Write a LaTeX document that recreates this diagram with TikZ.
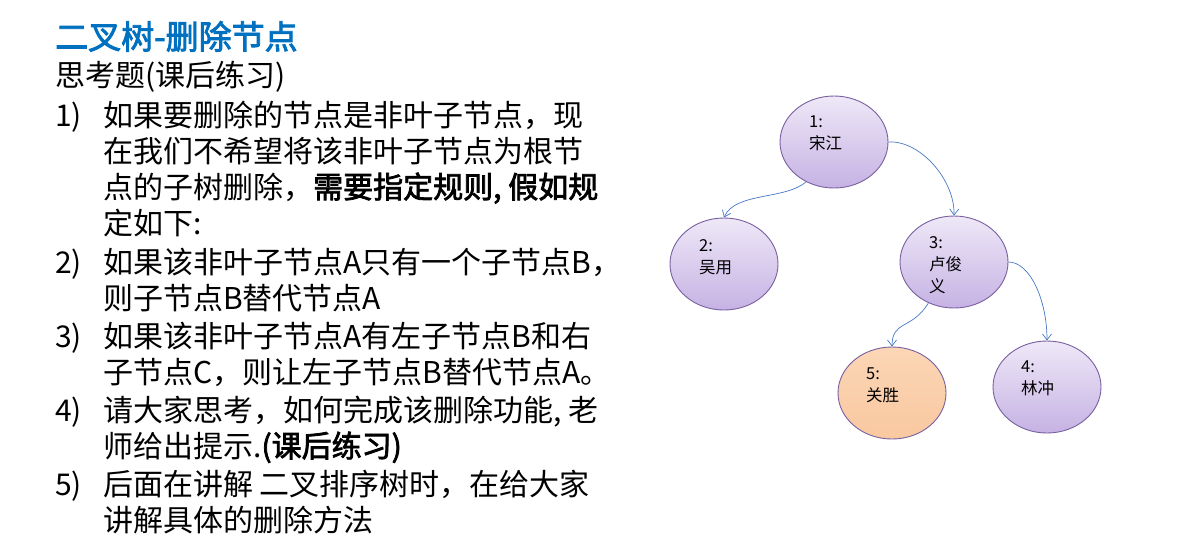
\documentclass[tikz,border=0pt]{standalone}
\usepackage{fontspec}
\setmainfont{Noto Sans CJK SC}[AutoFakeBold=2.5]
\usetikzlibrary{shapes.geometric,arrows.meta}
\definecolor{tblue}{RGB}{0,112,192}
\definecolor{ebord}{RGB}{120,95,160}
\definecolor{etop}{RGB}{238,232,247}
\definecolor{ebot}{RGB}{198,178,228}
\definecolor{otop}{RGB}{251,214,182}
\definecolor{obot}{RGB}{249,200,160}
\definecolor{lblue}{RGB}{70,120,195}
\tikzset{
  tn/.style={ellipse,draw=ebord,line width=0.9pt,top color=etop,bottom color=ebot,minimum width=108pt,minimum height=92pt,inner sep=0pt},
  on/.style={tn,top color=otop,bottom color=obot},
  lab/.style={anchor=north west,font=\fontsize{16.5}{22}\selectfont,align=left,inner sep=0pt},
  txt/.style={anchor=base west,inner sep=0pt,font=\fontsize{30}{32}\selectfont},
  ed/.style={draw=lblue,line width=0.7pt,-{Straight Barb[length=6pt,width=9pt]}}
}
\begin{document}
\begin{tikzpicture}[x=1pt,y=-1pt]
\useasboundingbox (0,0) rectangle (1178,558);
\node[anchor=base west,inner sep=0pt,text=tblue,font=\fontsize{33}{36}\selectfont\bfseries] (title) at (55,49) {二叉树-删除节点};
\node[txt] (q) at (55,86) {思考题(课后练习)};
\node[txt] (n1) at (55,126) {1)};
\node[txt] (l1a) at (103,126) {如果要删除的节点是非叶子节点，现};
\node[txt] (l1b) at (103,162) {在我们不希望将该非叶子节点为根节};
\node[txt] (l1c) at (103,198) {点的子树删除，\textbf{需要指定规则, 假如规}};
\node[txt] (l1d) at (103,234) {定如下:};
\node[txt] (n2) at (55,273) {2)};
\node[txt] (l2a) at (103,273) {如果该非叶子节点A只有一个子节点B，};
\node[txt] (l2b) at (103,309) {则子节点B替代节点A};
\node[txt] (n3) at (55,347) {3)};
\node[txt] (l3a) at (103,347) {如果该非叶子节点A有左子节点B和右};
\node[txt] (l3b) at (103,383) {子节点C，则让左子节点B替代节点A。};
\node[txt] (n4) at (55,421) {4)};
\node[txt] (l4a) at (103,421) {请大家思考，如何完成该删除功能, 老};
\node[txt] (l4b) at (103,457) {师给出提示.\textbf{(课后练习)}};
\node[txt] (n5) at (55,495) {5)};
\node[txt] (l5a) at (103,495) {后面在讲解 二叉排序树时，在给大家};
\node[txt] (l5b) at (103,531) {讲解具体的删除方法};

\node[tn] (a) at (834,142) {};
\node[tn] (b) at (724,264) {};
\node[tn] (c) at (954,262) {};
\node[on] (e) at (892,393) {};
\node[tn] (d) at (1047,387) {};
\node[lab] (ta) at (809,116) {1:\\宋江};
\node[lab] (tb) at (699,239) {2:\\吴用};
\node[lab] (tc) at (929,236) {3:\\卢俊\\义};
\node[lab] (te) at (866,368) {5:\\关胜};
\node[lab] (td) at (1021,361) {4:\\林冲};

\draw[ed] (a.235) .. controls (785,200) and (735,192) .. (b.north);
\draw[ed] (a.east) .. controls (920,140) and (955,180) .. (c.north);
\draw[ed] (c.238) .. controls (912,330) and (892,320) .. (e.north);
\draw[ed] (c.east) .. controls (1030,262) and (1047,300) .. (d.north);
\end{tikzpicture}
\end{document}
